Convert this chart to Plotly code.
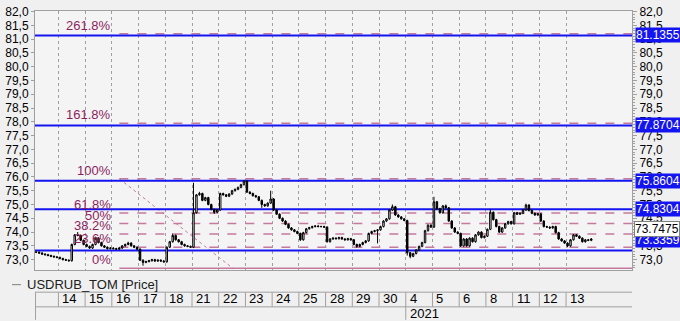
import plotly.graph_objects as go

# ---------------- data ----------------
day_labels = ["14", "15", "16", "17", "18", "21", "22", "23", "24", "25",
              "28", "29", "30", "4", "5", "6", "8", "11", "12", "13"]
year_label = "2021"
year_start_day = 13  # index of "4" (Jan 4)

candles_per_day = 9
# partial first day (Dec 11), last 8 candles
first_day_closes = [73.27, 73.24, 73.20, 73.18, 73.15, 73.12, 73.10, 73.08]
day_closes = [
    [73.04, 73.00, 72.98, 72.96, 73.55, 73.90, 73.88, 73.70, 73.55],  # 14
    [73.48, 73.42, 73.55, 73.78, 73.62, 73.50, 73.45, 73.40, 73.42],  # 15
    [73.40, 73.38, 73.42, 73.50, 73.55, 73.60, 73.50, 73.45, 73.38],  # 16
    [72.98, 72.90, 72.93, 72.96, 73.00, 72.95, 72.98, 72.95, 72.92],  # 17
    [73.45, 73.65, 73.88, 73.72, 73.65, 73.55, 73.50, 73.48, 73.45],  # 18
    [74.70, 75.35, 75.40, 75.15, 75.25, 75.00, 74.82, 74.72, 74.80],  # 21
    [75.40, 75.35, 75.30, 75.38, 75.50, 75.55, 75.62, 75.72, 75.85],  # 22
    [75.45, 75.40, 75.32, 75.28, 75.15, 75.00, 74.95, 75.05, 75.20],  # 23
    [74.80, 74.65, 74.50, 74.40, 74.28, 74.15, 74.08, 74.02, 73.95],  # 24
    [73.72, 73.98, 74.12, 74.16, 74.20, 74.22, 74.20, 74.20, 74.18],  # 25
    [73.65, 73.75, 73.78, 73.76, 73.80, 73.75, 73.72, 73.76, 73.72],  # 28
    [73.55, 73.48, 73.55, 73.62, 73.68, 73.95, 74.02, 74.05, 74.08],  # 29
    [74.20, 74.40, 74.48, 74.80, 74.92, 74.62, 74.55, 74.48, 74.42],  # 30
    [73.25, 73.12, 73.22, 73.35, 73.48, 73.62, 74.05, 74.25, 74.18],  # 4
    [75.10, 74.85, 74.70, 74.95, 74.88, 74.40, 74.15, 74.00, 73.95],  # 5
    [73.50, 73.75, 73.50, 73.78, 73.65, 73.90, 74.00, 73.80, 73.85],  # 6
    [74.10, 74.72, 74.45, 74.20, 74.00, 74.15, 74.30, 74.38, 74.30],  # 8
    [74.70, 74.65, 74.68, 74.80, 74.98, 74.78, 74.68, 74.62, 74.66],  # 11
    [74.40, 74.20, 74.18, 74.15, 74.20, 73.98, 73.75, 73.68, 73.60],  # 12
    [73.50, 73.72, 73.90, 73.85, 73.78, 73.65, 73.72, 73.70, 73.7475],  # 13
]
# notable wick extremes: (day index, candle index) -> price
high_spikes = {(0, 6): 74.00, (1, 3): 73.83, (2, 5): 73.65, (4, 2): 73.95,
               (5, 0): 75.79, (5, 2): 75.46, (6, 8): 75.88, (7, 8): 75.50,
               (12, 4): 75.00, (14, 0): 75.28, (14, 4): 75.00, (16, 1): 74.82,
               (17, 4): 75.03}
low_spikes = {(0, 4): 72.93, (3, 1): 72.78, (5, 7): 74.66, (7, 5): 74.88,
              (9, 0): 73.68, (11, 1): 73.43, (11, 8): 73.59, (13, 0): 73.15,
              (13, 1): 73.05, (15, 0): 73.45, (19, 0): 73.45}
wick = 0.03

# user horizontal lines (right-axis price tags)
hline_levels = [81.1355, 77.8704, 75.8604, 74.8304, 73.3359]
hline_tag_shift = [0, 0, 0, 0, 10]
last_price = 73.7475

# Fibonacci retracement
fib_low = 72.684
fib_high = 75.935
fib_ratios = [0.0, 0.236, 0.382, 0.5, 0.618, 1.0, 1.618, 2.618]
fib_labels = ["0%", "23.6%", "38.2%", "50%", "61.8%", "100%", "161.8%", "261.8%"]
fib_start = 2.28
fib_diag_end = 6.53

# ---------------- build candles ----------------
xs, o, h, l, c = [], [], [], [], []
prev = first_day_closes[0]
for j, cl in enumerate(first_day_closes):
    t = -1 + (j + 1 + 0.5) / candles_per_day
    op = prev
    xs.append(t); o.append(op); c.append(cl)
    h.append(max(op, cl) + wick); l.append(min(op, cl) - wick)
    prev = cl
for d, closes in enumerate(day_closes):
    for j, cl in enumerate(closes):
        t = d + (j + 0.5) / candles_per_day
        op = prev
        hi = max(op, cl) + wick
        lo = min(op, cl) - wick
        if (d, j) in high_spikes:
            hi = max(hi, high_spikes[(d, j)])
        if (d, j) in low_spikes:
            lo = min(lo, low_spikes[(d, j)])
        xs.append(t); o.append(op); c.append(cl); h.append(hi); l.append(lo)
        prev = cl

X0, X1 = -0.876, 21.468
Y0, Y1 = 72.624, 82.021

fig = go.Figure()
fig.add_trace(go.Candlestick(
    x=xs, open=o, high=h, low=l, close=c,
    increasing=dict(line=dict(color="#000000", width=1), fillcolor="#FFFFFF"),
    decreasing=dict(line=dict(color="#000000", width=1), fillcolor="#000000"),
    whiskerwidth=0, showlegend=False, hoverinfo="skip"))

shapes = []
ann = []
FIB_COL = "#C47A9C"
FIB_TXT = "#8B1F5E"
BLUE = "#1414F0"
GRAY = "#A0A0A0"

# fib levels
for r, lab in zip(fib_ratios, fib_labels):
    lvl = fib_low + r * (fib_high - fib_low)
    shapes.append(dict(type="line", xref="x", yref="y", x0=fib_start, x1=X1,
                       y0=lvl, y1=lvl, layer="between",
                       line=dict(color=FIB_COL, width=1.5,
                                 dash="solid" if r == 0 else "dash")))
    ann.append(dict(x=fib_start, y=lvl, xref="x", yref="y", text=lab,
                    showarrow=False, xanchor="right", yanchor="bottom",
                    xshift=-6, yshift=-1,
                    font=dict(family="Arial", size=13, color=FIB_TXT)))
# diagonal
shapes.append(dict(type="line", xref="x", yref="y", x0=fib_start, x1=fib_diag_end,
                   y0=fib_high, y1=fib_low, layer="between",
                   line=dict(color=FIB_COL, width=1, dash="dot")))

# blue horizontal lines + tags
for lvl, sh in zip(hline_levels, hline_tag_shift):
    shapes.append(dict(type="line", xref="x", yref="y", x0=X0, x1=X1,
                       y0=lvl, y1=lvl, layer="between",
                       line=dict(color=BLUE, width=2)))
    ann.append(dict(x=1, y=lvl, xref="paper", yref="y", text=f"{lvl:.4f}",
                    showarrow=False, xanchor="left", yanchor="middle",
                    xshift=3, yshift=sh, bgcolor=BLUE, borderpad=0,
                    font=dict(family="Arial", size=12, color="#FFFFFF")))
ann.append(dict(x=1, y=last_price, xref="paper", yref="y", text=f"{last_price:.4f}",
                showarrow=False, xanchor="left", yanchor="middle",
                xshift=2, yshift=10, bgcolor="#FFFFFF", bordercolor="#808080",
                borderwidth=1, borderpad=0,
                font=dict(family="Arial", size=12, color="#000000")))

# date band below plot
H = 265.0
def py(px):
    return (270 - px) / H
row1_top, row1_bot, row2_bot = py(292.7), py(307.7), py(321)
for yy in (row1_top, row1_bot):
    shapes.append(dict(type="line", xref="x", yref="paper", x0=X0, x1=X1,
                       y0=yy, y1=yy, line=dict(color=GRAY, width=1)))
shapes.append(dict(type="line", xref="x", yref="paper", x0=X0 + 0.02, x1=X0 + 0.02,
                   y0=row1_top, y1=row2_bot, line=dict(color=GRAY, width=1)))
for k, lab in enumerate(day_labels):
    shapes.append(dict(type="line", xref="x", yref="paper", x0=k, x1=k,
                       y0=row1_top, y1=row1_bot, line=dict(color=GRAY, width=1)))
    ann.append(dict(x=k, y=py(299.5), xref="x", yref="paper", text=lab,
                    showarrow=False, xanchor="left", yanchor="middle", xshift=2,
                    font=dict(family="Arial", size=13, color="#000000")))
shapes.append(dict(type="line", xref="x", yref="paper", x0=year_start_day,
                   x1=year_start_day, y0=row1_bot, y1=row2_bot,
                   line=dict(color=GRAY, width=1)))
ann.append(dict(x=year_start_day, y=py(314), xref="x", yref="paper", text=year_label,
                showarrow=False, xanchor="left", yanchor="middle", xshift=2,
                font=dict(family="Arial", size=13, color="#000000")))

# legend
shapes.append(dict(type="line", xref="paper", yref="paper",
                   x0=(12 - 35) / 597, x1=(21 - 35) / 597, y0=py(285), y1=py(285),
                   line=dict(color="#808080", width=1)))
ann.append(dict(x=(25 - 35) / 597, y=py(285), xref="paper", yref="paper",
                text="USDRUB_TOM [Price]", showarrow=False, xanchor="left",
                yanchor="middle", font=dict(family="Arial", size=13, color="#202020")))

yticks = [73 + 0.5 * i for i in range(19)]
axis_font = dict(family="Arial", size=12, color="#000000")

fig.update_layout(
    width=680, height=321,
    margin=dict(l=35, r=48, t=5, b=51),
    paper_bgcolor="#F0F0F0", plot_bgcolor="#F4F4F4",
    separators=", ",
    showlegend=False,
    shapes=shapes, annotations=ann,
    xaxis=dict(range=[X0, X1], tickvals=list(range(len(day_labels))),
               showticklabels=False, ticks="", showgrid=True, gridcolor=GRAY,
               griddash="dot", gridwidth=1, zeroline=False, showline=True,
               linecolor=GRAY, mirror=True, rangeslider=dict(visible=False),
               fixedrange=True),
    yaxis=dict(range=[Y0, Y1], tickvals=yticks, tickformat=".1f", ticks="outside",
               ticklen=3, tickcolor=GRAY, showgrid=False, zeroline=False,
               showline=True, linecolor=GRAY, mirror=True, tickfont=axis_font,
               side="left", ticklabeloverflow="allow"),
    yaxis2=dict(range=[Y0, Y1], tickvals=yticks, tickformat=".1f", ticks="outside",
                ticklen=4, tickcolor=GRAY, showgrid=False, zeroline=False,
                overlaying="y", side="right", anchor="x", tickfont=axis_font,
                ticklabeloverflow="allow",
                minor=dict(dtick=0.1, ticks="outside", ticklen=2, tickcolor=GRAY,
                           showgrid=False)),
)
fig.add_trace(go.Scatter(x=[X0], y=[Y0], yaxis="y2", mode="markers",
                         marker=dict(opacity=0), showlegend=False, hoverinfo="skip"))

fig.write_html("out.html")
